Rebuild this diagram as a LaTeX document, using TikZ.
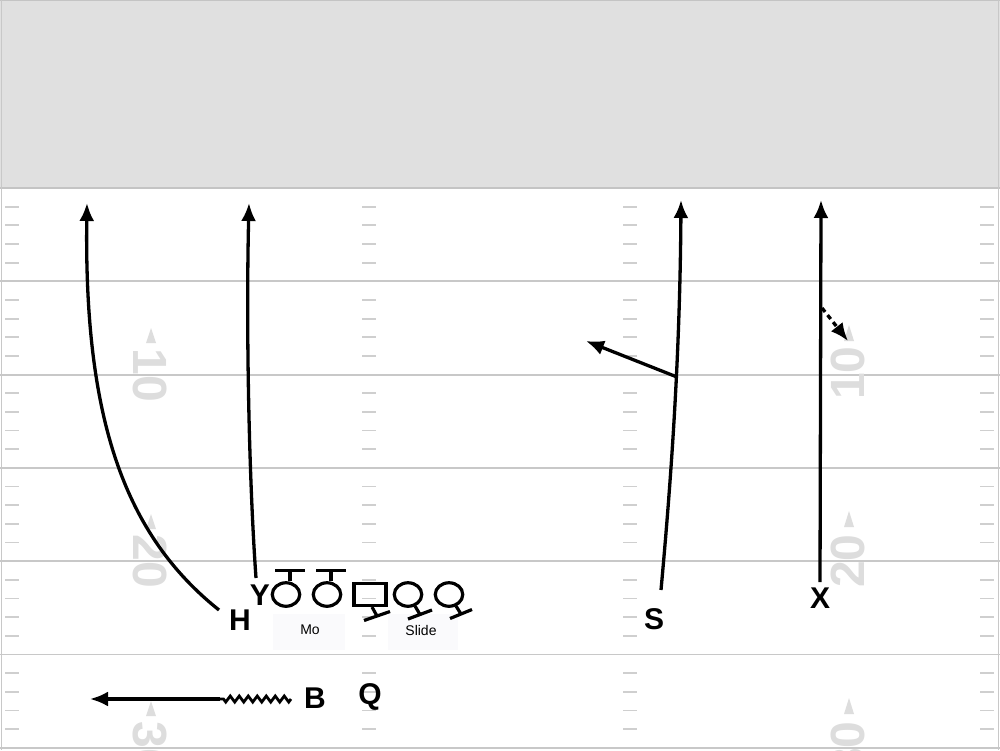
\documentclass[tikz,border=0pt]{standalone}
\usepackage{fontspec}
\setmainfont{Liberation Sans}
\usetikzlibrary{arrows.meta,decorations.pathmorphing,shapes.geometric}
\definecolor{topgray}{HTML}{E0E0E0}
\definecolor{topedge}{HTML}{C4C4C4}
\definecolor{linec}{HTML}{C8C8C8}
\definecolor{hashc}{HTML}{CFCFCF}
\definecolor{numgray}{HTML}{DDDDDD}
\definecolor{boxc}{HTML}{FAFAFC}
\begin{document}
\begin{tikzpicture}[x=1pt,y=-1pt,
  fieldline/.style={draw=linec, line width=1.8pt},
  hashmark/.style={draw=hashc, line width=1.8pt},
  route/.style={draw=black, line width=3.3pt, -{Latex[length=18pt,width=15pt]}},
  player/.style={font=\bfseries\fontsize{30}{30}\selectfont, inner sep=0pt, text depth=0pt},
  lineman/.style={draw, ellipse, line width=3.2pt, minimum width=27.5pt, minimum height=23.5pt, inner sep=0pt},
  centerman/.style={draw, rectangle, line width=3.2pt, minimum width=32pt, minimum height=22.5pt, inner sep=0pt},
  blockline/.style={line width=3.2pt},
  num/.style={text=numgray, font=\bfseries\fontsize{48}{48}\selectfont, inner sep=0pt, text depth=0pt},
  numtri/.style={fill=numgray, draw=none},
  lbl/.style={font=\fontsize{14}{14}\selectfont, inner sep=0pt},
  lblbox/.style={fill=boxc, draw=none}
]
\useasboundingbox (0,0) rectangle (1000,750);
\fill[white] (0,0) rectangle (1000,750);
% top gray zone
\fill[topgray] (0,0) rectangle (1000,188);
\draw[topedge, line width=1pt] (0,0.5) -- (1000,0.5);
% field lines
\foreach \k in {0,...,6}{
  \pgfmathsetmacro{\yy}{188+93.3*\k}
  \draw[fieldline] (0,\yy) -- (1000,\yy);
}
\draw[topedge, line width=2pt] (0,188) -- (1000,188);
\draw[linec, line width=1.2pt] (1.5,0) -- (1.5,750);
\draw[linec, line width=1.2pt] (998.5,0) -- (998.5,750);
% hash marks
\foreach \k in {0,...,5}{
  \foreach \j in {1,...,4}{
    \pgfmathsetmacro{\yy}{188+93.3*\k+18.66*\j}
    \foreach \xx in {5,362,623,980}{
      \draw[hashmark] (\xx,\yy) -- ++(14,0);
    }
  }
}
% yard numbers
\node[num, rotate=-90] (n10l) at (150,375) {10};
\node[num, rotate=-90] (n20l) at (150,561) {20};
\node[num, rotate=-90] (n30l) at (150,748) {30};
\node[num, rotate=90] (n10r) at (848,373) {10};
\node[num, rotate=90] (n20r) at (848,561) {20};
\node[num, rotate=90] (n30r) at (848,748) {30};
\foreach \yy in {375,561,748}{
  \fill[numtri] (151,\yy-47) -- (156,\yy-32) -- (146,\yy-32) -- cycle;
  \fill[numtri] (849,\yy-50) -- (854,\yy-34) -- (844,\yy-34) -- cycle;
}
% label boxes
\fill[lblbox] (273,614) rectangle (345,650);
\fill[lblbox] (388,614) rectangle (458,650);
\node[lbl] (mo) at (310,630) {Mo};
\node[lbl] (slide) at (421,630) {Slide};
% players
\node[player] (H) at (240,620) {H};
\node[player] (Y) at (260,595) {Y};
\node[player] (S) at (654,619) {S};
\node[player] (X) at (820,598) {X};
\node[player] (B) at (315,698) {B};
\node[player] (Q) at (370,694) {Q};
% line
\node[lineman] (L1) at (286,594.5) {};
\node[lineman] (L2) at (327,594.5) {};
\node[centerman] (C) at (370,594.5) {};
\node[lineman] (R1) at (408,594.5) {};
\node[lineman] (R2) at (449,594.5) {};
% T blocks (Mo)
\draw[blockline] ([xshift=4pt]L1.north) -- ++(0,-11) ++(-15,0) -- ++(30,0);
\draw[blockline] ([xshift=4pt]L2.north) -- ++(0,-11) ++(-15,0) -- ++(30,0);
% slide blocks
\draw[blockline] ([shift={(2,12.5)}]C.center) -- ++(5,9) ++(-13,4.5) -- ++(26,-9);
\draw[blockline] ([shift={(7,11.5)}]R1.center) -- ++(5,8.5) ++(-12,4.5) -- ++(24,-9);
\draw[blockline] ([shift={(7,11.5)}]R2.center) -- ++(5,8) ++(-11,4.5) -- ++(22,-9);
% route coordinates
\coordinate (h0) at (219,610);
\coordinate (h1) at (87,203);
\coordinate (y0) at (256,578);
\coordinate (y1) at (249,203);
\coordinate (s0) at (661,590);
\coordinate (s1) at (681,200);
\coordinate (sb) at (677,377);
\coordinate (sb1) at (586,341);
\coordinate (x0) at (820,582);
\coordinate (x1) at (821,200);
\coordinate (xb) at (822,308);
\coordinate (xb1) at (848,341);
\coordinate (b0) at (291,699);
\coordinate (bm) at (220,699);
\coordinate (b1) at (90,699);
% routes
\draw[route] (h0) .. controls (125,535) and (84,420) .. (h1);
\draw[route] (y0) .. controls (249,480) and (246,330) .. (y1);
\draw[route] (s0) .. controls (672,470) and (680,350) .. (s1);
\draw[route] (sb) -- (sb1);
\draw[route] (x0) -- (x1);
\draw[route, dash pattern=on 5pt off 4pt] (xb) -- (xb1);
\draw[line width=2.8pt, decorate, decoration={zigzag, segment length=9pt, amplitude=3pt}] (b0) -- (bm);
\draw[route] (bm) -- (b1);
\end{tikzpicture}
\end{document}
